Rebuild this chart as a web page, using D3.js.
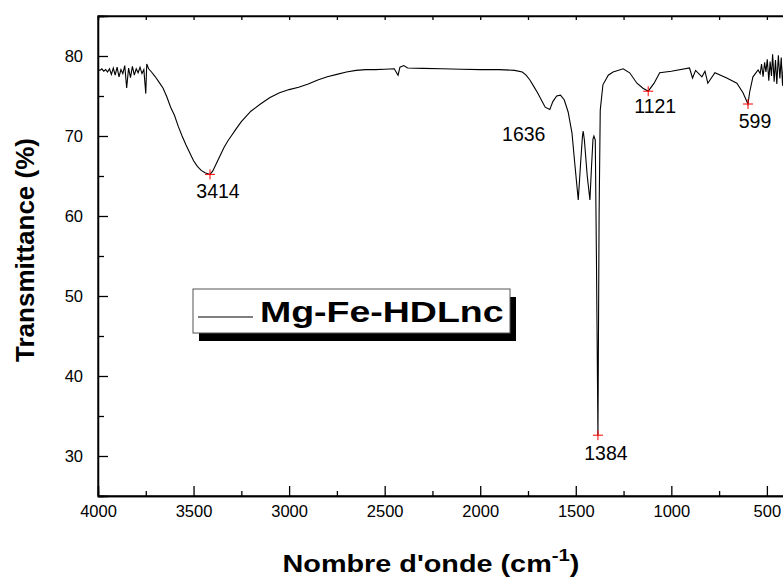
<!DOCTYPE html>
<html>
<head>
<meta charset="utf-8">
<script src="https://cdn.jsdelivr.net/npm/d3@7"></script>
<style>
  body { margin:0; padding:0; background:#fff; }
  svg { display:block; font-family:"Liberation Sans", Arial, sans-serif; }
  .axis path, .axis line { stroke:#000; stroke-width:1.3; }
  .axis text { font-size:16.5px; fill:#000; }
</style>
</head>
<body>
<svg id="chart" width="783" height="577"></svg>
<script>
// spectrum (wavenumber cm-1, transmittance %)
var wavenumber = [4000,3990,3980,3970,3960,3950,3940,3930,3920,3910,3900,3890,3880,3870,3860,3850,3840,3830,3820,3810,
  3800,3790,3780,3770,3760,3750,3745,3735,3720,3700,3680,3660,3640,3620,3600,3580,3560,3540,3520,3500,
  3480,3460,3440,3414,3400,3380,3360,3340,3320,3300,3280,3250,3200,3150,3100,3050,3000,2950,2900,2850,
  2800,2750,2700,2650,2600,2550,2500,2450,2430,2420,2400,2380,2300,2200,2100,2000,1900,1820,1780,1760,
  1740,1720,1700,1680,1660,1636,1620,1600,1580,1560,1540,1520,1505,1487,1475,1465,1461,1455,1440,1426,
  1418,1410,1405,1398,1392,1384,1378,1372,1358,1330,1305,1252,1218,1180,1150,1121,1090,1061,1000,905,
  889,873,840,824,809,772,710,657,625,599,590,573,546,535,528,520,512,505,498,490,
  483,476,470,462,455,448,440,432,425,418,410];
var transmittance = [78.3,78.2,78.4,78.1,78.3,78.0,78.4,77.7,78.5,77.6,78.6,77.4,78.3,77.8,78.8,76.0,78.5,77.3,78.7,77.6,
  78.4,77.9,78.6,77.8,78.3,75.3,79.0,78.4,78.0,77.4,76.7,76.0,74.9,73.6,72.6,71.2,70.0,68.9,67.9,66.9,
  66.2,65.7,65.4,65.2,65.6,66.6,67.6,68.6,69.4,70.1,70.8,71.8,73.1,74.0,74.8,75.4,75.8,76.1,76.5,77.0,
  77.4,77.7,78.0,78.2,78.3,78.3,78.35,78.4,77.6,78.6,78.8,78.5,78.45,78.4,78.35,78.3,78.3,78.2,78.0,77.6,
  77.0,76.2,75.4,74.5,73.6,73.3,74.3,75.0,75.1,74.5,73.0,70.4,66.5,62.0,66.5,70.0,70.6,69.5,65.0,62.0,
  66.0,69.6,70.0,69.5,55.0,32.6,60.0,73.2,76.4,77.6,78.0,78.4,77.9,76.6,76.0,75.6,76.6,77.9,78.1,78.5,
  77.25,78.2,77.4,78.1,76.6,77.9,77.25,76.6,75.4,74.0,75.5,77.4,78.25,77.8,79.0,77.4,79.2,78.0,79.6,76.9,
  79.3,77.5,80.2,76.8,79.5,76.5,80.1,77.2,79.8,76.3,80.0];

var peakWn = [3414, 1636, 1384, 1121, 599];
var peakT = [65.2, 73.3, 32.6, 75.6, 74.0];
var peakMarked = [true, false, true, true, true];

var xTicks = [4000, 3500, 3000, 2500, 2000, 1500, 1000, 500];
var yTicks = [30, 40, 50, 60, 70, 80];
var seriesName = "Mg-Fe-HDLnc";

// label offsets from the peak point, in pixels
var peakLabelOffset = [[8, 24], [-26, 31], [8, 25], [7, 22], [7, 24]];

var svg = d3.select("#chart");
var pLeft = 98, pTop = 16, pRight = 786, pBottom = 496;

var x = d3.scaleLinear().domain([4000, 400]).range([pLeft, pRight]);
var y = d3.scaleLinear().domain([25, 85]).range([pBottom, pTop]);

// frame
svg.append("rect").attr("x", pLeft).attr("y", pTop)
  .attr("width", pRight - pLeft).attr("height", pBottom - pTop)
  .attr("fill", "none").attr("stroke", "#000").attr("stroke-width", 1.3);

var minorX = d3.range(3750, 400, -500);
var allX = d3.range(4000, 400, -250);

svg.append("g").attr("class", "axis").attr("transform", "translate(0," + pBottom + ")")
  .call(d3.axisBottom(x).tickValues(xTicks).tickSize(-10).tickPadding(9).tickFormat(d3.format("d")));
svg.append("g").attr("class", "axis").attr("transform", "translate(0," + pBottom + ")")
  .call(d3.axisBottom(x).tickValues(minorX).tickSize(-5).tickFormat(""));
svg.append("g").attr("class", "axis").attr("transform", "translate(0," + pTop + ")")
  .call(d3.axisTop(x).tickValues(allX).tickSize(-4).tickFormat(""));

svg.append("g").attr("class", "axis").attr("transform", "translate(" + pLeft + ",0)")
  .call(d3.axisLeft(y).tickValues(yTicks).tickSize(-10).tickPadding(15));
svg.append("g").attr("class", "axis").attr("transform", "translate(" + pLeft + ",0)")
  .call(d3.axisLeft(y).tickValues([35, 45, 55, 65, 75]).tickSize(-6).tickFormat(""));

// spectrum
var pts = wavenumber.map(function(w, i) { return [w, transmittance[i]]; });
svg.append("path").datum(pts)
  .attr("fill", "none").attr("stroke", "#000").attr("stroke-width", 1.1)
  .attr("d", d3.line().x(function(d){ return x(d[0]); }).y(function(d){ return y(d[1]); }));

// peak markers and labels
peakWn.forEach(function(w, i) {
  var px = x(w), py = y(peakT[i]);
  if (peakMarked[i]) {
    svg.append("path").attr("d", "M" + (px - 5) + "," + py + "h10M" + px + "," + (py - 5) + "v10")
      .attr("stroke", "#f00").attr("stroke-width", 1);
  }
  svg.append("text").attr("x", px + peakLabelOffset[i][0]).attr("y", py + peakLabelOffset[i][1])
    .attr("text-anchor", "middle").attr("font-size", 19.5).text(w);
});

// legend
svg.append("rect").attr("x", 199).attr("y", 297).attr("width", 317).attr("height", 44).attr("fill", "#000");
svg.append("rect").attr("x", 193).attr("y", 289).attr("width", 317).attr("height", 44)
  .attr("fill", "#fff").attr("stroke", "#555").attr("stroke-width", 1);
svg.append("line").attr("x1", 198).attr("x2", 253).attr("y1", 317).attr("y2", 317)
  .attr("stroke", "#000").attr("stroke-width", 1.1);
svg.append("text").attr("transform", "translate(260,322) scale(1.25,1)")
  .attr("font-size", 30).attr("font-weight", "bold").text(seriesName);

// axis titles
svg.append("text").attr("transform", "translate(34,250) rotate(-90)")
  .attr("text-anchor", "middle").attr("font-size", 26).attr("font-weight", "bold")
  .text("Transmittance (%)");

var xt = svg.append("text").attr("transform", "translate(431,572) scale(1.2,1)")
  .attr("text-anchor", "middle").attr("font-size", 24).attr("font-weight", "bold");
xt.append("tspan").text("Nombre d'onde (cm");
xt.append("tspan").attr("font-size", 17).attr("dy", -11).text("-1");
xt.append("tspan").attr("dy", 11).text(")");
</script>
</body>
</html>
